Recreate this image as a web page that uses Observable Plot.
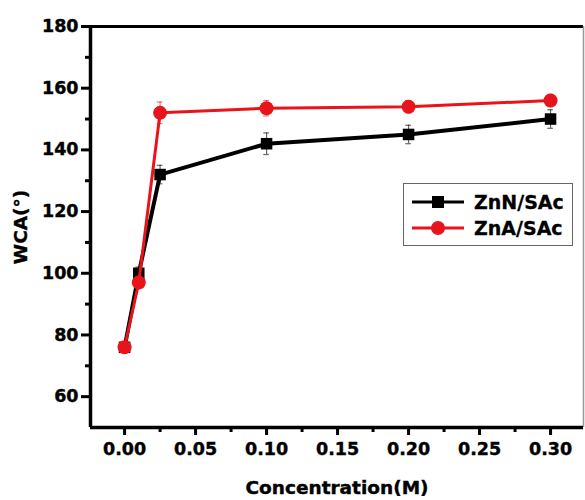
<!DOCTYPE html>
<html><head><meta charset="utf-8">
<script src="https://cdn.jsdelivr.net/npm/d3@7"></script>
<script src="https://cdn.jsdelivr.net/npm/@observablehq/plot@0.6"></script>
<style>
body{margin:0;background:#fff;}
#wrap{position:relative;width:585px;height:500px;overflow:hidden;}
#wrap svg text{font-family:"DejaVu Sans";font-weight:bold;fill:#000;stroke:#000;stroke-width:0.4px;}
#legend{position:absolute;left:403px;top:183px;width:168px;height:61px;border:1.5px solid #666;background:#fff;font-family:"DejaVu Sans";font-weight:bold;font-size:19px;-webkit-text-stroke:0.3px #000;}
#legend .row{position:absolute;left:8px;height:24px;display:flex;align-items:center;}
#legend .row span{margin-left:8px;}
</style></head><body><div id="wrap"></div>
<script>
const concentration = [0, 0.01, 0.025, 0.1, 0.2, 0.3];
const wcaZnN = [76, 100, 132, 142, 145, 150];
const errZnN = [1.5, 2, 3, 3.5, 3, 3];
const wcaZnA = [76, 97, 152, 153.5, 154, 156];
const errZnA = [1.5, 2, 3.5, 2.5, 2, 2];
const seriesNames = ["ZnN/SAc", "ZnA/SAc"];
const seriesColors = ["#000000", "#e8141b"];
const seriesSymbols = ["square", "circle"];
const xTicks = [0, 0.05, 0.10, 0.15, 0.20, 0.25, 0.30];
const xMinorTicks = [0.025, 0.075, 0.125, 0.175, 0.225, 0.275];
const yTicks = [60, 80, 100, 120, 140, 160, 180];
const yMinorTicks = [70, 90, 110, 130, 150, 170];
const xDomain = [-0.024, 0.3232];
const yDomain = [50, 180];

const rows = [];
[wcaZnN, wcaZnA].forEach((vals, s) => {
  const errs = s === 0 ? errZnN : errZnA;
  concentration.forEach((c, i) => rows.push({series: seriesNames[s], x: c, y: vals[i], e: errs[i]}));
});
const bySeries = name => rows.filter(d => d.series === name);

const marks = [];
seriesNames.forEach((name, s) => {
  const data = bySeries(name);
  marks.push(
    Plot.ruleX(data, {x: "x", y1: d => d.y - d.e, y2: d => d.y + d.e, stroke: seriesColors[s], strokeWidth: 1.2, strokeOpacity: 0.6}),
    Plot.ruleY(data, {y: d => d.y + d.e, x1: d => d.x - 0.002, x2: d => d.x + 0.002, stroke: seriesColors[s], strokeWidth: 1.2, strokeOpacity: 0.6}),
    Plot.ruleY(data, {y: d => d.y - d.e, x1: d => d.x - 0.002, x2: d => d.x + 0.002, stroke: seriesColors[s], strokeWidth: 1.2, strokeOpacity: 0.6}),
    Plot.line(data, {x: "x", y: "y", stroke: seriesColors[s], strokeWidth: s === 0 ? 4 : 3}),
    Plot.dot(data, {x: "x", y: "y", symbol: seriesSymbols[s], r: s === 0 ? 6.5 : 7, fill: seriesColors[s], stroke: "none"})
  );
});

const chart = Plot.plot({
  width: 585, height: 500,
  marginLeft: 90, marginRight: 2, marginTop: 26, marginBottom: 73,
  style: {fontFamily: "DejaVu Sans", fontWeight: "bold", fontSize: "17.5px", background: "#fff"},
  x: {domain: xDomain},
  y: {domain: yDomain},
  marks: [
    Plot.axisX({ticks: xTicks, tickFormat: d3.format(".2f"), tickSize: 8, tickPadding: 7, strokeWidth: 3, fontSize: 17.5,
      label: "Concentration(M)", labelAnchor: "center", labelArrow: "none", labelOffset: 66}),
    Plot.axisX({ticks: xMinorTicks, tickFormat: () => "", tickSize: 5, strokeWidth: 3, label: null}),
    Plot.axisY({ticks: yTicks, tickSize: 9, tickPadding: 3, strokeWidth: 3, fontSize: 17.5,
      label: "WCA(°)", labelAnchor: "center", labelArrow: "none", labelOffset: 77}),
    Plot.axisY({ticks: yMinorTicks, tickFormat: () => "", tickSize: 5, strokeWidth: 3, label: null}),
    Plot.ruleY([yDomain[1]], {stroke: "#000", strokeWidth: 3}),
    Plot.ruleX([xDomain[1]], {stroke: "#999", strokeWidth: 1.5}),
    Plot.ruleX([xDomain[0]], {stroke: "#000", strokeWidth: 3.5}),
    Plot.ruleY([yDomain[0]], {stroke: "#000", strokeWidth: 3.5}),
    ...marks
  ]
});
const wrap = document.getElementById("wrap");
wrap.appendChild(chart);
chart.querySelectorAll("text").forEach(t => {
  if (t.textContent === "Concentration(M)" || t.textContent === "WCA(°)") t.style.fontSize = "18.5px";
});

// legend
const legend = document.createElement("div");
legend.id = "legend";
seriesNames.forEach((name, s) => {
  const row = document.createElement("div");
  row.className = "row";
  row.style.top = (s === 0 ? 6 : 32) + "px";
  const marker = seriesSymbols[s] === "square"
    ? `<rect x="20" y="6" width="12" height="12" fill="${seriesColors[s]}"/>`
    : `<circle cx="26" cy="12" r="7" fill="${seriesColors[s]}"/>`;
  row.innerHTML = `<svg width="54" height="24"><line x1="0" x2="52" y1="12" y2="12" stroke="${seriesColors[s]}" stroke-width="3"/>${marker}</svg><span>${name}</span>`;
  legend.appendChild(row);
});
wrap.appendChild(legend);
</script></body></html>
